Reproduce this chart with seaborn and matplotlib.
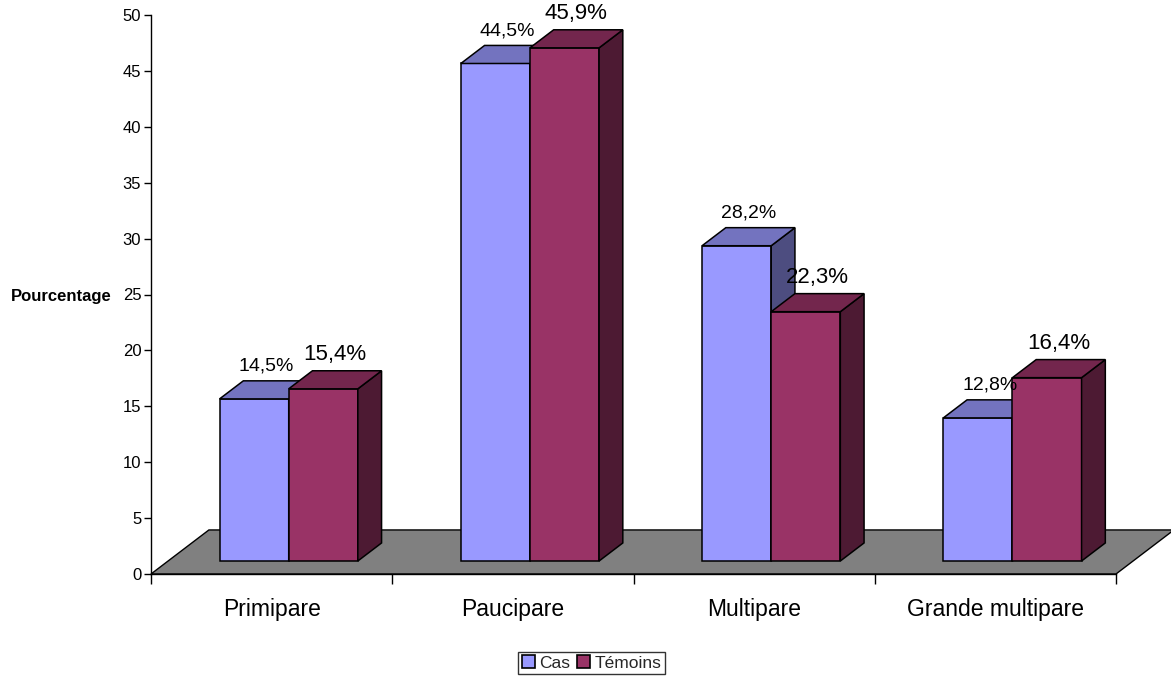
import numpy as np
import pandas as pd
import matplotlib
matplotlib.use("Agg")
import matplotlib.pyplot as plt
from matplotlib.patches import Polygon, Patch
from matplotlib.ticker import FixedLocator
import seaborn as sns

# Parity distribution, cases vs controls (percent)
categories = ["Primipare", "Paucipare", "Multipare", "Grande multipare"]
groups = ["Cas", "Témoins"]
cas = [14.5, 44.5, 28.2, 12.8]
temoins = [15.4, 45.9, 22.3, 16.4]
yticks = list(range(0, 51, 5))

df = pd.DataFrame({
    "Parité": categories * 2,
    "Groupe": [groups[0]] * len(categories) + [groups[1]] * len(categories),
    "Pourcentage": cas + temoins,
})

# face shading for the pseudo-3D columns
front = {"Cas": "#9999FF", "Témoins": "#993366"}
top = {"Cas": "#7373BF", "Témoins": "#73264D"}
side = {"Cas": "#4D4D80", "Témoins": "#4D1A33"}
label_size = {"Cas": 14, "Témoins": 16}

sns.set_theme(style="white")
plt.rcParams["font.family"] = ["Liberation Sans", "DejaVu Sans"]

fig = plt.figure(figsize=(11.71, 6.76), dpi=100)
ax = fig.add_axes([151 / 1171, 102 / 676, 965 / 1171, 559 / 676])
ax.set_facecolor("white")

sns.barplot(data=df, x="Parité", y="Pourcentage", hue="Groupe",
            order=categories, hue_order=groups, palette=front,
            width=0.573, saturation=1, edgecolor="black", linewidth=1.1,
            legend=False, ax=ax)

ax.set_xlim(-0.5, len(categories) - 0.5)
ax.set_ylim(0, 50)

# depth vector of the floor, in data units (x: categories, y: percent)
depth = np.array([0.24, 3.94])
shift = 0.295 * depth      # columns stand a little behind the front edge
dd = 0.41 * depth          # column thickness

floor = Polygon([(-0.5, 0), (len(categories) - 0.5, 0),
                 (len(categories) - 0.5 + depth[0], depth[1]),
                 (-0.5 + depth[0], depth[1])],
                closed=True, facecolor="#808080", edgecolor="black",
                linewidth=1.0, zorder=1, clip_on=False)
ax.add_patch(floor)

for k, (grp, cont) in enumerate(zip(groups, ax.containers)):
    z = 3 + k
    for bar in cont.patches:
        w = bar.get_width()
        h = bar.get_height()
        x0 = bar.get_x() + shift[0]
        y0 = shift[1]
        y1 = y0 + h
        bar.set_x(x0)
        bar.set_y(y0)
        bar.set_zorder(z)
        top_face = Polygon([(x0, y1), (x0 + w, y1),
                            (x0 + w + dd[0], y1 + dd[1]), (x0 + dd[0], y1 + dd[1])],
                           closed=True, facecolor=top[grp], edgecolor="black",
                           linewidth=1.1, zorder=z, clip_on=False)
        side_face = Polygon([(x0 + w, y0), (x0 + w + dd[0], y0 + dd[1]),
                             (x0 + w + dd[0], y1 + dd[1]), (x0 + w, y1)],
                            closed=True, facecolor=side[grp], edgecolor="black",
                            linewidth=1.1, zorder=z, clip_on=False)
        ax.add_patch(side_face)
        ax.add_patch(top_face)
        ax.annotate(f"{h:.1f}%".replace(".", ","),
                    xy=(x0 + w / 2 + dd[0] / 2, y1 + dd[1]),
                    xytext=(0, 7.5), textcoords="offset points",
                    ha="center", va="baseline", fontsize=label_size[grp],
                    color="black", zorder=10)

# axes styling
for s in ("top", "right"):
    ax.spines[s].set_visible(False)
for s in ("left", "bottom"):
    ax.spines[s].set_color("black")
    ax.spines[s].set_linewidth(1.0)

ax.set_yticks(yticks)
ax.tick_params(axis="y", left=True, direction="out", length=5, width=1,
               color="black", labelsize=12, pad=2, labelcolor="black")
ax.xaxis.set_minor_locator(FixedLocator(np.arange(-0.5, len(categories), 1.0)))
ax.tick_params(axis="x", which="major", bottom=True, length=0, labelsize=16.5,
               pad=17, labelcolor="black")
ax.tick_params(axis="x", which="minor", bottom=True, direction="out",
               length=7, width=1, color="black")

ax.set_xlabel("")
ax.set_ylabel("Pourcentage", rotation=0, fontweight="bold", fontsize=12,
              ha="right", va="center", color="black")
ax.yaxis.set_label_coords(-0.041, 0.497)
ax.grid(False)

handles = [Patch(facecolor=front[g], edgecolor="black", linewidth=1.2, label=g)
           for g in groups]
leg = fig.legend(handles=handles, loc="center", ncol=2,
                 bbox_to_anchor=(591.5 / 1171, 1 - 663 / 676),
                 fontsize=12.5, frameon=True, fancybox=False, edgecolor="black",
                 handlelength=0.75, handleheight=0.75, handletextpad=0.25,
                 columnspacing=0.4, borderpad=0.2, borderaxespad=0)
leg.get_frame().set_linewidth(1.0)

fig.savefig("out.png", dpi=100)
